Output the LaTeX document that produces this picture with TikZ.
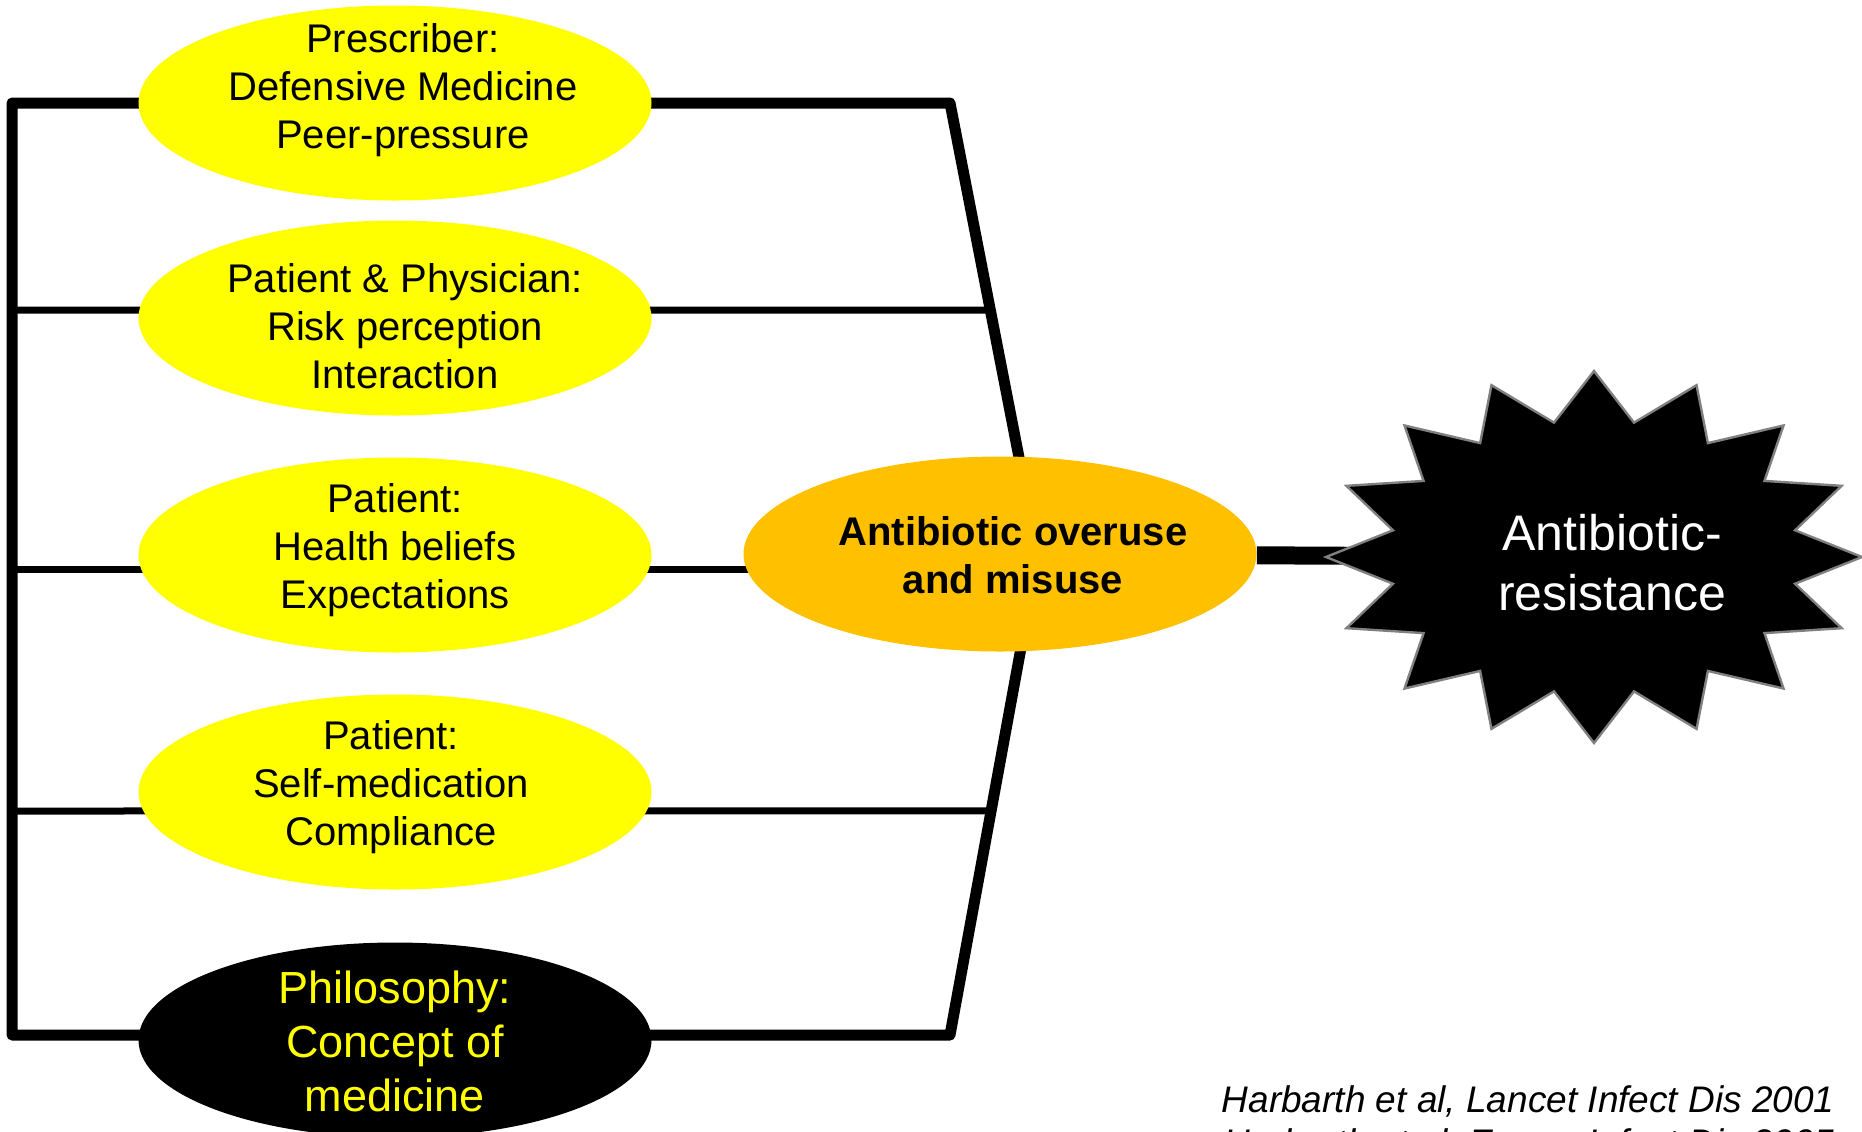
\documentclass[tikz,border=0pt]{standalone}
\usepackage{fontspec}
\setmainfont{Liberation Sans}
\usetikzlibrary{shapes.geometric,backgrounds,calc}
\definecolor{leafyellow}{HTML}{FFFF00}
\definecolor{misuseorange}{HTML}{FFC000}

\begin{document}
\begin{tikzpicture}[
x=0.5pt, y=-0.5pt,
leaf/.style={
ellipse,
fill=leafyellow,
minimum width=256.5pt,
minimum height=97.5pt,
inner sep=0pt
},
leaftext/.style={
align=center,
inner sep=0pt,
font=\fontsize{20}{24}\selectfont
},
heavy/.style={line width=5.5pt, line join=round},
light/.style={line width=3.5pt},
burst/.style={fill=black, draw=gray, line width=1.2pt}
]

\useasboundingbox (0,0) rectangle (1862,1131);

% causes
\node[leaf] (prescriber) at (395,103) {};
\node[leaf] (physician) at (395,318) {};
\node[leaf] (beliefs) at (395,555) {};
\node[leaf] (selfmed) at (395,792) {};
\node[leaf, fill=black] (philosophy) at (395,1040) {};

\node[leaftext] (prescriber-txt) at (403,90)
{Prescriber:\\Defensive Medicine\\Peer-pressure};
\node[leaftext] (physician-txt) at (405,326)
{Patient \& Physician:\\Risk perception\\Interaction};
\node[leaftext] (beliefs-txt) at (395,550)
{Patient:\\Health beliefs\\Expectations};
\node[leaftext] (selfmed-txt) at (391,787)
{Patient:\\Self-medication\\Compliance};
\node[leaftext, text=leafyellow, font=\fontsize{22.5}{27}\selectfont] (philosophy-txt) at (395,1041)
{Philosophy:\\Concept of\\medicine};

% effect
\node[leaf, fill=misuseorange] (misuse) at (1000,554) {};
\node[leaftext, font=\bfseries\fontsize{20}{24}\selectfont] (misuse-txt) at (1013,555)
{Antibiotic overuse\\and misuse};

\coordinate (burst) at (1594,557);
\draw[burst] ($(burst)+(0:134pt and 93pt)$)
\foreach \k in {0,...,15} {
-- ($(burst)+(\k*22.5+11.25:102.5pt and 68.5pt)$)
-- ($(burst)+(\k*22.5+22.5:134pt and 93pt)$)
} -- cycle;
\node[text=white, align=center, inner sep=0pt, font=\fontsize{25}{30}\selectfont] (resistance) at (1612,563)
{Antibiotic-\\resistance};

\node[anchor=base east, align=right, inner sep=0pt, font=\itshape\fontsize{18.5}{21.5}\selectfont] (source) at (1835,1155)
{Harbarth et al, Lancet Infect Dis 2001\\Harbarth et al, Emerg Infect Dis 2005};

% connectors
\coordinate (spine-top) at (12,103);
\coordinate (spine-bot) at (12,1035);
\coordinate (bend-top) at (950,103);
\coordinate (bend-bot) at (950,1035);
\coordinate (apex) at (1038,555);
\coordinate (tap-physician) at (12,310);
\coordinate (tap-beliefs) at (12,569);
\coordinate (tap-selfmed) at (12,811);
\coordinate (join-physician) at ($(bend-top)!0.458!(apex)$);
\coordinate (join-selfmed) at ($(bend-bot)!0.467!(apex)$);

\begin{pgfonlayer}{background}
\draw[heavy] (apex) -- (bend-top) -- (spine-top) -- (spine-bot) -- (bend-bot) -- (apex);
\draw[light] (tap-physician) -- (join-physician);
\draw[light] (tap-beliefs) -- (tap-beliefs -| misuse);
\draw[light] (tap-selfmed) -- (join-selfmed);
\draw[line width=9pt] (misuse) -- (burst);
\end{pgfonlayer}

\end{tikzpicture}
\end{document}
